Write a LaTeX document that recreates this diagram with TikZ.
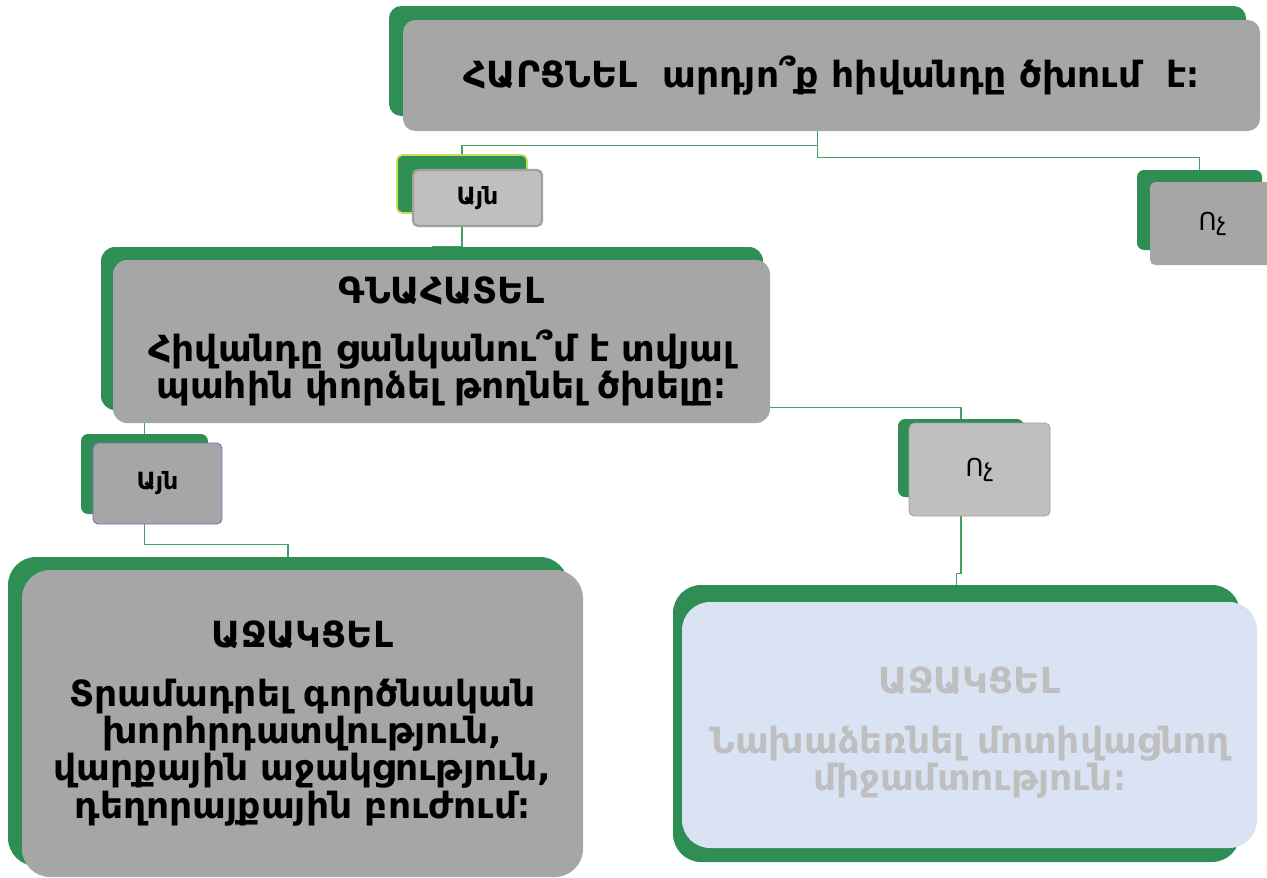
\documentclass[tikz,border=0pt]{standalone}
\usepackage{fontspec}
\setmainfont{DejaVu Sans}
\definecolor{leafgreen}{RGB}{46,142,84}
\definecolor{wiregreen}{RGB}{70,160,100}
\definecolor{limeedge}{RGB}{200,222,90}
\definecolor{boxgrey}{RGB}{166,166,166}
\definecolor{tabgrey}{RGB}{191,191,191}
\definecolor{edgegrey}{RGB}{160,160,160}
\definecolor{paleblue}{RGB}{218,227,243}
\definecolor{fadetext}{RGB}{191,191,191}
\pgfdeclarelayer{bg}
\pgfsetlayers{bg,main}
\begin{document}
\begin{tikzpicture}[x=0.02cm, y=-0.02cm, line join=round,
  sz/.style 2 args={minimum width=#1*0.02cm, minimum height=#2*0.02cm, inner sep=0pt},
  greenbox/.style={fill=leafgreen, rounded corners=#1}, greenbox/.default=4pt,
  greybox/.style={fill=boxgrey, rounded corners=#1, align=center,
    font=\bfseries\fontsize{20.5}{21.2}\selectfont}, greybox/.default=4pt,
  smallbox/.style={fill=tabgrey, rounded corners=3pt, font=\fontsize{14}{16}\selectfont},
  wire/.style={draw=wiregreen, line width=0.7pt}]
\useasboundingbox (0,0) rectangle (1267,877);
% question
\node[greenbox=7pt, sz={857}{110}] (quest) at (817.5,61) {};
\node[greybox=7pt, sz={857}{111}] (questface) at (831.5,75.5)
  {ՀԱՐՑՆԵԼ\ \ արդյո՞ք հիվանդը ծխում\ \ է։};
% yes / no under the question
\node[greenbox=3pt, draw=limeedge, line width=1pt, sz={130}{58}] (yesone) at (462,184) {};
\node[smallbox, draw=edgegrey, line width=1.3pt, sz={129}{56}, font=\bfseries\fontsize{13.5}{16}\selectfont]
  (yesoneface) at (477.5,198) {Այն};
\node[greenbox=4pt, sz={125}{80}] (noone) at (1199.5,210) {};
\node[smallbox, fill=boxgrey, sz={125}{83}] (nooneface) at (1212.5,223.5) {Ոչ};
% assess
\node[greenbox=8pt, sz={662}{163}] (assess) at (432,328.5) {};
\node[greybox=8pt, sz={657}{163}] (assessface) at (441.5,341.5)
  {ԳՆԱՀԱՏԵԼ\\[12pt]Հիվանդը ցանկանու՞մ է տվյալ\\պահին փորձել թողնել ծխելը։};
% yes / no under assess
\node[greenbox=4pt, sz={127}{80}] (yestwo) at (144.5,474) {};
\node[smallbox, fill=boxgrey, draw=edgegrey!70!blue, line width=0.5pt, sz={129}{81},
  font=\bfseries\fontsize{13.5}{16}\selectfont] (yestwoface) at (157.5,483.5) {Այն};
\node[greenbox=4pt, sz={126}{78}] (notwo) at (961,458) {};
\node[smallbox, draw=edgegrey, line width=0.5pt, sz={141}{93}] (notwoface) at (979.5,469.5) {Ոչ};
% help boxes
\node[greenbox=16pt, sz={560}{309}] (helpone) at (288,711.5) {};
\node[greybox=16pt, sz={561}{307}] (helponeface) at (302.5,723.5)
  {ԱՋԱԿՑԵԼ\\[12pt]Տրամադրել գործնական\\խորհրդատվություն,\\վարքային աջակցություն,\\դեղորայքային բուժում։};
\node[greenbox=16pt, sz={567}{277}] (helptwo) at (956.5,723.5) {};
\node[greybox=16pt, fill=paleblue, text=fadetext, sz={575}{246}] (helptwoface) at (969.5,725)
  {\rule{0pt}{24pt}ԱՋԱԿՑԵԼ\\[13pt]Նախաձեռնել մոտիվացնող\\միջամտություն։};
% connectors
\begin{pgfonlayer}{bg}
\draw[wire] (quest.south) -- ++(0,29) -| (yesone.north);
\draw[wire] (quest.south) -- ++(0,41) -| (noone.north);
\draw[wire] (yesone.south) |- (assess.north);
\draw[wire] (assess.south -| yestwo.north) -- (yestwo.north);
\draw[wire] ([yshift=3*0.02cm]assess.south east) -| (notwo.north);
\draw[wire] (yestwo.south) -- ++(0,30) -| (helpone.north);
\draw[wire] (notwo.south) -- ++(0,76) -| (helptwo.north);
\end{pgfonlayer}
\end{tikzpicture}
\end{document}
